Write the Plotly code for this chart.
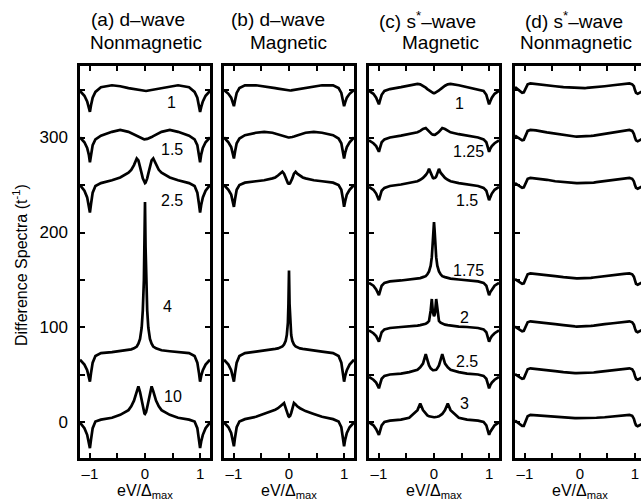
import plotly.graph_objects as go

# ---------------- data ----------------
X = [-1.18, -1.1, -1.05, -1.02, -1.0, -0.98, -0.95, -0.9, -0.8, -0.6, -0.45, -0.3, -0.25, -0.2, -0.15,
     -0.12, -0.09, -0.06, -0.04, -0.02, -0.01, 0.0, 0.01, 0.02, 0.04, 0.06, 0.09, 0.12, 0.15, 0.2, 0.25,
     0.3, 0.45, 0.6, 0.8, 0.9, 0.95, 0.98, 1.0, 1.02, 1.05, 1.1, 1.18]

# (a) d-wave, nonmagnetic
A_1 = [349, 344, 338, 332, 327, 334, 342, 348, 353, 355, 354, 352, 351.5, 351, 350.5, 350, 349.7, 349.4, 349.2, 349, 349, 349,
       349, 349, 349.2, 349.4, 349.7, 350, 350.5, 351, 351.5, 352, 354, 355, 353, 348, 342, 334, 327, 332, 338, 344, 349]
A_1p5 = [300, 295, 289, 282, 274, 282, 292, 298, 302, 306, 308, 306, 304.5, 303, 301.5, 300.5, 299.5, 299, 298.5, 298.2, 298, 298,
         298, 298.2, 298.5, 299, 299.5, 300.5, 301.5, 303, 304.5, 306, 308, 306, 302, 298, 292, 282, 274, 282, 289, 295, 300]
A_2p5 = [250, 244, 237, 229, 221, 230, 242, 249, 252, 255, 258, 263, 266, 271, 278, 276, 270, 262, 257, 253.5, 252.5, 252,
         252.5, 253.5, 257, 262, 270, 276, 278, 271, 266, 263, 258, 255, 252, 249, 242, 230, 221, 229, 237, 244, 250]
A_4 = [66, 61, 55, 49, 43, 52, 63, 70, 73, 74, 75, 76, 77, 78, 80, 83, 88, 100, 118, 150, 185, 232,
       185, 150, 118, 100, 88, 83, 80, 78, 77, 76, 75, 74, 73, 70, 63, 52, 43, 49, 55, 61, 66]
A_10 = [0, -6, -13, -20, -27, -18, -6, 1, 3, 5, 8, 13, 17, 23, 33, 38, 32, 22, 16, 11, 9.5, 9,
        9.5, 11, 16, 22, 32, 38, 33, 23, 17, 13, 8, 5, 3, 1, -6, -18, -27, -20, -13, -6, 0]

# (b) d-wave, magnetic
B_1 = [350, 346, 342, 337, 333, 339, 347, 352, 355, 355, 354, 352.5, 352, 351.5, 351, 350.5, 350, 349.8, 349.6, 349.5, 349.5, 349.5,
       349.5, 349.5, 349.6, 349.8, 350, 350.5, 351, 351.5, 352, 352.5, 354, 355, 355, 352, 347, 339, 333, 337, 342, 346, 350]
B_1p5 = [300, 295, 290, 284, 278, 285, 294, 299, 302.5, 305, 306, 305, 304, 303, 302, 301.5, 301, 300.5, 300.2, 300, 300, 300,
         300, 300, 300.2, 300.5, 301, 301.5, 302, 303, 304, 305, 306, 305, 302.5, 299, 294, 285, 278, 284, 290, 295, 300]
B_2p5 = [250, 245, 240, 233, 227, 235, 245, 250, 252.5, 254, 255, 257, 258, 260, 262, 264, 262, 257, 254, 252, 251.5, 251,
         251.5, 252, 254, 257, 262, 264, 262, 260, 258, 257, 255, 254, 252.5, 250, 245, 235, 227, 233, 240, 245, 250]
B_4 = [66, 61, 55, 49, 43, 52, 63, 70, 73, 74.5, 75.5, 77, 77.5, 78, 79, 80, 82, 86, 92, 105, 125, 160,
       125, 105, 92, 86, 82, 80, 79, 78, 77.5, 77, 75.5, 74.5, 73, 70, 63, 52, 43, 49, 55, 61, 66]
B_10 = [0, -5, -11, -18, -25, -16, -5, 1, 3.5, 6, 9, 12, 13.5, 15, 17, 19, 20.5, 15, 10, 7, 6.5, 6,
        6.5, 7, 10, 15, 20.5, 19, 17, 15, 13.5, 12, 9, 6, 3.5, 1, -5, -16, -25, -18, -11, -5, 0]

# (c) s*-wave, magnetic
C_1 = [349, 346, 342, 338, 335, 339, 345, 349, 351, 353, 355, 356.5, 356, 354.5, 352.5, 351, 349.5, 348, 347.5, 347, 346.8, 346.5,
       346.8, 347, 347.5, 348, 349.5, 351, 352.5, 354.5, 356, 356.5, 355, 353, 351, 349, 345, 339, 335, 338, 342, 346, 349]
C_1p25 = [297, 294, 291, 288, 285, 289, 295, 298, 300, 302, 303.5, 305.5, 307, 309, 310, 308, 306, 304.5, 303.5, 303, 302.8, 302.5,
          302.8, 303, 303.5, 304.5, 306, 308, 310, 309, 307, 305.5, 303.5, 302, 300, 298, 295, 289, 285, 288, 291, 294, 297]
C_1p5 = [248, 245, 241, 237, 234, 238, 244, 247, 249, 250.5, 252, 254, 255.5, 257.5, 260.5, 263, 267, 262, 259, 257.5, 257, 257,
         257, 257.5, 259, 262, 267, 263, 260.5, 257.5, 255.5, 254, 252, 250.5, 249, 247, 244, 238, 234, 237, 241, 245, 248]
C_1p75 = [147, 144, 140, 137, 134, 138, 144, 147, 148.5, 149.5, 150.5, 151.5, 152, 153, 154, 156, 159, 165, 174, 192, 203, 211,
          203, 192, 174, 165, 159, 156, 154, 153, 152, 151.5, 150.5, 149.5, 148.5, 147, 144, 138, 134, 137, 140, 144, 147]
C_2 = [97, 94, 91, 88, 85, 89, 95, 98, 99.5, 100.5, 101, 102, 102.5, 103, 104, 105, 107, 118, 130, 116, 113, 112,
       113, 116, 130, 118, 107, 105, 104, 103, 102.5, 102, 101, 100.5, 99.5, 98, 95, 89, 85, 88, 91, 94, 97]
C_2p5 = [48, 45, 42, 39, 36, 40, 46, 49, 50.5, 51.5, 53, 55.5, 58, 62, 72, 66, 60, 57, 55.5, 55, 55, 55,
         55, 55, 55.5, 57, 60, 66, 72, 62, 58, 55.5, 53, 51.5, 50.5, 49, 46, 40, 36, 39, 42, 45, 48]
C_3 = [0, -3, -7, -10, -13, -9, -3, 0.5, 2, 3, 5, 13, 20, 13, 9, 7.5, 6.5, 6, 5.5, 5.5, 5.5, 5.5,
       5.5, 5.5, 5.5, 6, 6.5, 7.5, 9, 13, 20, 13, 5, 3, 2, 0.5, -3, -9, -13, -10, -7, -3, 0]

# (d) s*-wave, nonmagnetic
D_1 = [353, 349, 347, 347.5, 350, 353, 356, 357, 356.5, 355, 354, 353, 352.8, 352.5, 352.3, 352.2, 352.1, 352, 352, 352, 352, 352,
       352, 352, 352, 352, 352.1, 352.2, 352.3, 352.5, 352.8, 353, 354, 355, 356.5, 357, 356, 354, 350, 347, 346, 347.5, 350]
D_2 = [302, 299, 297, 297.5, 300, 303, 307, 308, 307.5, 305.5, 304, 302.5, 302, 301.7, 301.4, 301.2, 301.1, 301, 301, 301, 301, 301,
       301, 301, 301, 301, 301.1, 301.2, 301.4, 301.7, 302, 302.5, 304, 305.5, 307.5, 308, 307, 304, 300, 297, 296, 297.5, 300]
D_3 = [252, 249, 247, 247.5, 250, 253, 256.5, 257.5, 257, 255.5, 254, 253, 252.6, 252.3, 252.1, 252, 252, 252, 252, 252, 252, 252,
       252, 252, 252, 252, 252, 252, 252.1, 252.3, 252.6, 253, 254, 255.5, 257, 257.5, 256.5, 254, 250, 247, 246, 247.5, 250]
D_4 = [151, 148, 146, 146.5, 149, 152.5, 156, 157, 156.5, 155, 154, 153, 152.6, 152.3, 152.1, 152, 151.9, 151.8, 151.8, 151.8, 151.8, 151.8,
       151.8, 151.8, 151.8, 151.8, 151.9, 152, 152.1, 152.3, 152.6, 153, 154, 155, 156.5, 157, 156, 153.5, 149, 146, 145, 146.5, 149]
D_5 = [101, 98, 96, 96.5, 99, 102.5, 105.5, 106.5, 106, 104.5, 103.5, 102.5, 102, 101.7, 101.4, 101.2, 101.1, 101, 101, 101, 101, 101,
       101, 101, 101, 101, 101.1, 101.2, 101.4, 101.7, 102, 102.5, 103.5, 104.5, 106, 106.5, 105.5, 103, 99, 96, 95, 96.5, 99]
D_6 = [51, 48, 46, 46.5, 49, 53, 56, 57, 56.5, 55, 54, 53, 52.6, 52.3, 52.1, 52, 52, 52, 52, 52, 52, 52,
       52, 52, 52, 52, 52, 52, 52.1, 52.3, 52.6, 53, 54, 55, 56.5, 57, 56, 53, 49, 46, 45, 46.5, 49]
D_7 = [2, -1.5, -3.5, -3.5, -1, 3, 6.5, 8, 7.5, 6.5, 5.5, 5, 4.8, 4.6, 4.5, 4.5, 4.5, 4.5, 4.5, 4.5, 4.5, 4.5,
       4.5, 4.5, 4.5, 4.5, 4.5, 4.5, 4.5, 4.6, 4.8, 5, 5.5, 6.5, 7.5, 8, 7, 4, 0, -3, -4, -2.5, 0]

PANEL_A = [A_1, A_1p5, A_2p5, A_4, A_10]
PANEL_B = [B_1, B_1p5, B_2p5, B_4, B_10]
PANEL_C = [C_1, C_1p25, C_1p5, C_1p75, C_2, C_2p5, C_3]
PANEL_D = [D_1, D_2, D_3, D_4, D_5, D_6, D_7]

LABELS_A = ["1", "1.5", "2.5", "4", "10"]
LABELS_C = ["1", "1.25", "1.5", "1.75", "2", "2.5", "3"]
TITLES_1 = ["(a) d–wave", "(b) d–wave", "(c) s<sup>*</sup>–wave", "(d) s<sup>*</sup>–wave"]
TITLES_2 = ["Nonmagnetic", "Magnetic", "Magnetic", "Nonmagnetic"]
YTICKS = [0, 100, 200, 300]
YTICKTEXT = ["0", "100", "200", "300"]
XTICKS = [-1, 0, 1]
XTICKTEXT = ["–1", "0", "1"]

# ---------------- layout ----------------
W, H = 641, 502
FONT = "Liberation Sans, Arial, Helvetica, sans-serif"
px_x = lambda p: p / W
px_y = lambda p: (H - p) / H

x_domains = [(80, 210), (224, 354), (369, 499), (515, 641)]
x_ranges = [[-1.18, 1.18], [-1.18, 1.18], [-1.18, 1.18], [-1.18, 1.11]]
y_domain = [px_y(458), px_y(66)]
y_range = [-37.4, 375.3]

fig = go.Figure()
panels = [PANEL_A, PANEL_B, PANEL_C, PANEL_D]
for i, curves in enumerate(panels):
    xa = "x" if i == 0 else f"x{i+1}"
    ya = "y" if i == 0 else f"y{i+1}"
    for c in curves:
        fig.add_trace(go.Scatter(x=X, y=c, mode="lines", xaxis=xa, yaxis=ya,
                                 line=dict(color="black", width=2.7),
                                 showlegend=False, hoverinfo="skip"))

tick_style = dict(ticks="inside", ticklen=5, tickwidth=1.6, tickcolor="black")
layout = dict(width=W, height=H, margin=dict(l=0, r=0, t=0, b=0),
              paper_bgcolor="white", plot_bgcolor="white", showlegend=False,
              font=dict(family=FONT, color="black"))
for i in range(4):
    xk = "xaxis" if i == 0 else f"xaxis{i+1}"
    yk = "yaxis" if i == 0 else f"yaxis{i+1}"
    xa = "x" if i == 0 else f"x{i+1}"
    ya = "y" if i == 0 else f"y{i+1}"
    layout[xk] = dict(domain=[px_x(x_domains[i][0]), px_x(x_domains[i][1])], range=x_ranges[i],
                      anchor=ya, showline=True, linecolor="black", linewidth=2.5, mirror="ticks",
                      tickmode="array", tickvals=XTICKS, ticktext=XTICKTEXT,
                      minor=dict(tick0=0, dtick=0.5, **tick_style),
                      showgrid=False, zeroline=False,
                      tickfont=dict(family=FONT, size=15, color="black"), fixedrange=True, **tick_style)
    layout[yk] = dict(domain=y_domain, range=y_range, anchor=xa, showline=True, linecolor="black",
                      linewidth=2.5, mirror=("ticks" if i < 3 else False),
                      tickmode="array", tickvals=YTICKS, ticktext=YTICKTEXT, showticklabels=(i == 0),
                      minor=dict(tick0=0, dtick=50, **tick_style),
                      showgrid=False, zeroline=False, ticklabelstandoff=6,
                      tickfont=dict(family=FONT, size=17, color="black"), fixedrange=True, **tick_style)
fig.update_layout(**layout)

ann = []
title1_x = [138, 278, 427, 574]
title2_x = [146, 288, 440, 576]
for i in range(4):
    ann.append(dict(text=TITLES_1[i], x=px_x(title1_x[i]), y=px_y(20), xref="paper", yref="paper",
                    showarrow=False, xanchor="center", yanchor="middle", font=dict(size=19, family=FONT)))
    ann.append(dict(text=TITLES_2[i], x=px_x(title2_x[i]), y=px_y(42), xref="paper", yref="paper",
                    showarrow=False, xanchor="center", yanchor="middle", font=dict(size=19, family=FONT)))
    xa = "x" if i == 0 else f"x{i+1}"
    ann.append(dict(text="eV/Δ<sub>max</sub>", x=0, y=px_y(481), xref=xa, yref="paper",
                    showarrow=False, xanchor="center", yanchor="top", borderpad=0,
                    font=dict(size=16, family=FONT)))

lab_a_pos = [(0.49, 337), (0.49, 287), (0.49, 234), (0.41, 122), (0.5, 27)]
for t, (lx, ly) in zip(LABELS_A, lab_a_pos):
    ann.append(dict(text=t, x=lx, y=ly, xref="x", yref="y", showarrow=False,
                    xanchor="center", yanchor="middle", font=dict(size=16, family=FONT)))
lab_c_pos = [(0.47, 336), (0.62, 285), (0.59, 234), (0.62, 160), (0.56, 111), (0.59, 64), (0.56, 20)]
for t, (lx, ly) in zip(LABELS_C, lab_c_pos):
    ann.append(dict(text=t, x=lx, y=ly, xref="x3", yref="y3", showarrow=False,
                    xanchor="center", yanchor="middle", font=dict(size=16, family=FONT)))

ann.append(dict(text="Difference Spectra (t<sup>-1</sup>)", x=px_x(20), y=px_y(265), xref="paper", yref="paper",
                showarrow=False, textangle=-90, xanchor="center", yanchor="middle",
                font=dict(size=16, family=FONT)))
fig.update_layout(annotations=ann)

fig.write_html("out.html", include_plotlyjs=True, config={"displayModeBar": False},
               post_script="document.body.style.margin='0';document.body.style.overflow='hidden';")
